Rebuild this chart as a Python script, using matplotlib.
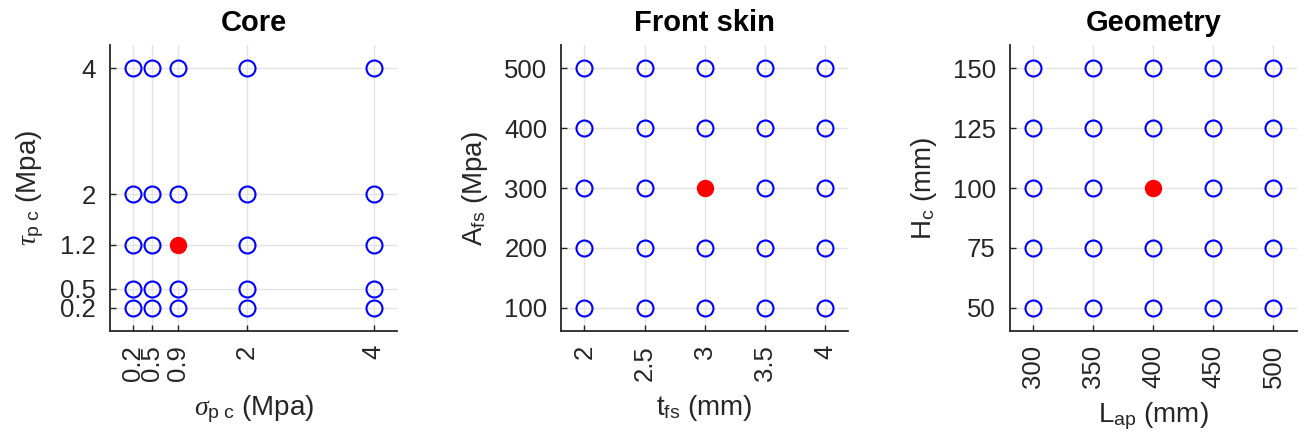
import numpy as np
import matplotlib
matplotlib.use("Agg")
import matplotlib.pyplot as plt

plt.rcParams["font.family"] = ["Liberation Sans", "DejaVu Sans"]
plt.rcParams["mathtext.fontset"] = "custom"
plt.rcParams["mathtext.rm"] = "Liberation Sans"
plt.rcParams["mathtext.it"] = "Liberation Serif:italic"

# parameter levels for each group, plus the reference (nominal) design
core_sigma = [0.2, 0.5, 0.9, 2, 4]
core_tau = [0.2, 0.5, 1.2, 2, 4]
core_ref = (0.9, 1.2)

skin_t = [2, 2.5, 3, 3.5, 4]
skin_A = [100, 200, 300, 400, 500]
skin_ref = (3, 300)

geo_L = [300, 350, 400, 450, 500]
geo_H = [50, 75, 100, 125, 150]
geo_ref = (400, 100)

titles = ["Core", "Front skin", "Geometry"]
xlabels = [r"$\sigma_{\mathrm{p\ c}}$ (Mpa)", r"t$_{\mathrm{fs}}$ (mm)", r"L$_{\mathrm{ap}}$ (mm)"]
ylabels = [r"$\tau_{\mathrm{p\ c}}$ (Mpa)", r"A$_{\mathrm{fs}}$ (Mpa)", r"H$_{\mathrm{c}}$ (mm)"]

groups = [
    (core_sigma, core_tau, core_ref),
    (skin_t, skin_A, skin_ref),
    (geo_L, geo_H, geo_ref),
]

dark = "#262626"
fig = plt.figure(figsize=(13.05, 4.41), dpi=100)
lefts = [0.0843, 0.430, 0.7737]

for i, (xs, ys, ref) in enumerate(groups):
    ax = fig.add_axes([lefts[i], 0.2494, 0.22, 0.6485])
    gx, gy = np.meshgrid(xs, ys)
    gx, gy = gx.ravel(), gy.ravel()
    keep = ~((gx == ref[0]) & (gy == ref[1]))
    ax.plot(gx[keep], gy[keep], "o", ms=11.5, mfc="none", mec="blue", mew=1.5,
            zorder=3)
    ax.plot(ref[0], ref[1], "o", ms=11.5, mfc="red", mec="red", zorder=4)

    # pad limits by ~10% of the span on both sides
    xr = xs[-1] - xs[0]
    yr = ys[-1] - ys[0]
    ax.set_xlim(xs[0] - 0.097 * xr, xs[-1] + 0.097 * xr)
    ax.set_ylim(ys[0] - 0.097 * yr, ys[-1] + 0.097 * yr)

    ax.set_xticks(xs)
    ax.set_yticks(ys)
    ax.set_xticklabels([f"{v:g}" for v in xs], rotation=90)
    ax.set_yticklabels([f"{v:g}" for v in ys])
    ax.tick_params(direction="in", length=4, width=1, colors=dark,
                   labelsize=18.5, pad=10)
    ax.grid(True, color="#e3e3e3", lw=1)
    ax.set_axisbelow(True)

    for side in ["top", "right"]:
        ax.spines[side].set_visible(False)
    for side in ["left", "bottom"]:
        ax.spines[side].set_color(dark)
        ax.spines[side].set_linewidth(1.3)

    ax.set_title(titles[i], fontsize=21, fontweight="bold", pad=10)
    ax.set_xlabel(xlabels[i], fontsize=20, color=dark, labelpad=9)
    ax.set_ylabel(ylabels[i], fontsize=20, color=dark, labelpad=10)

fig.savefig("out.png", dpi=100)
